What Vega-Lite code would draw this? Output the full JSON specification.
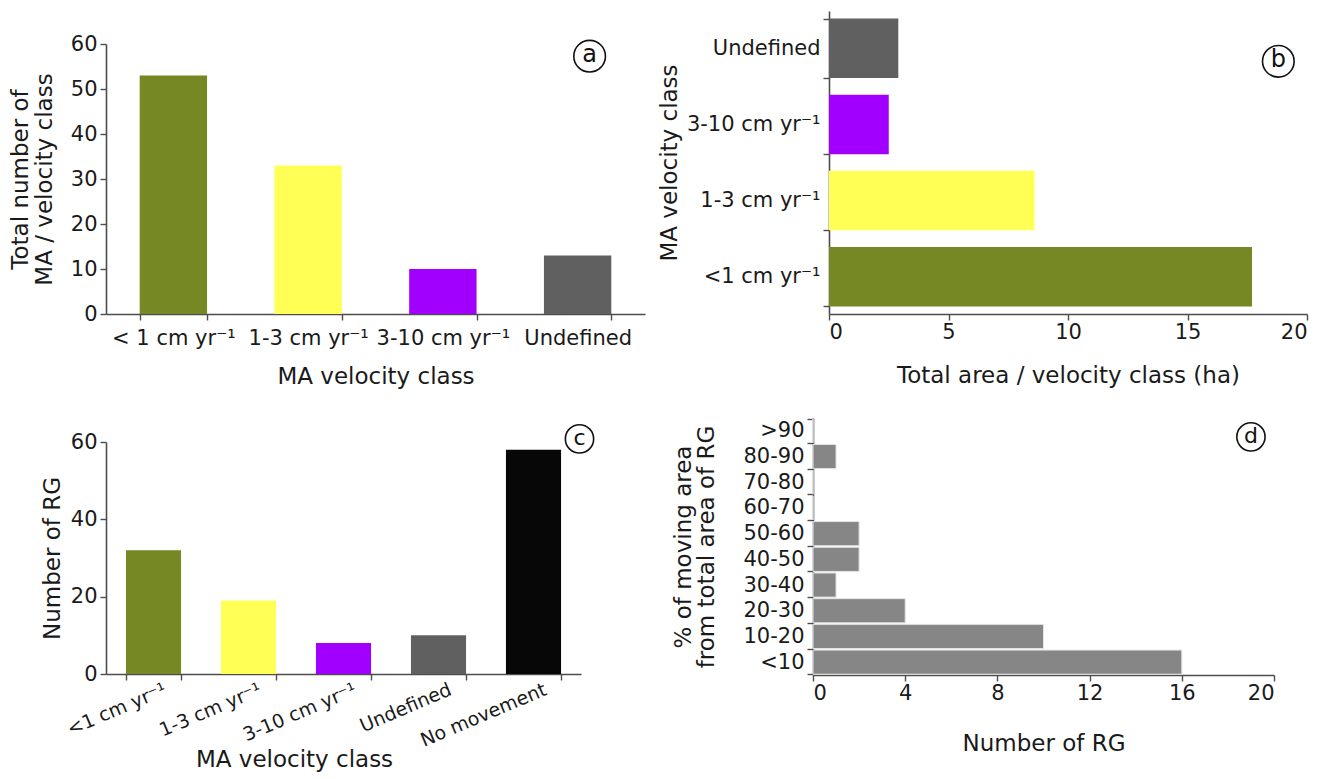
{
  "$schema": "https://vega.github.io/schema/vega-lite/v6.json",
  "padding": {"left": 9, "top": 0, "right": 5, "bottom": 5},
  "background": "white",
  "datasets": {
    "ma_count": [
      {"cls": "< 1 cm yr⁻¹", "n": 53},
      {"cls": "1-3 cm yr⁻¹", "n": 33},
      {"cls": "3-10 cm yr⁻¹", "n": 10},
      {"cls": "Undefined", "n": 13}
    ],
    "ma_area": [
      {"cls": "<1 cm yr⁻¹", "ha": 17.7},
      {"cls": "1-3 cm yr⁻¹", "ha": 8.6},
      {"cls": "3-10 cm yr⁻¹", "ha": 2.5},
      {"cls": "Undefined", "ha": 2.9}
    ],
    "rg_class": [
      {"cls": "<1 cm yr⁻¹", "n": 32},
      {"cls": "1-3 cm yr⁻¹", "n": 19},
      {"cls": "3-10 cm yr⁻¹", "n": 8},
      {"cls": "Undefined", "n": 10},
      {"cls": "No movement", "n": 58}
    ],
    "rg_pct": [
      {"pct": "<10", "n": 16},
      {"pct": "10-20", "n": 10},
      {"pct": "20-30", "n": 4},
      {"pct": "30-40", "n": 1},
      {"pct": "40-50", "n": 2},
      {"pct": "50-60", "n": 2},
      {"pct": "60-70", "n": 0},
      {"pct": "70-80", "n": 0},
      {"pct": "80-90", "n": 1},
      {"pct": ">90", "n": 0}
    ]
  },
  "spacing": 19,
  "vconcat": [
    {
      "spacing": 13,
      "hconcat": [
        {
          "spacing": 0,
          "vconcat": [
            {"width": 10, "height": 22, "data": {"values": []}, "mark": {"type": "point"}, "encoding": {}},
            {
              "width": 539,
              "height": 270,
              "layer": [
                {
                  "data": {"name": "ma_count"},
                  "mark": {"type": "bar"},
                  "encoding": {
                    "x": {"field": "cls", "type": "nominal",
                      "scale": {"domain": ["< 1 cm yr⁻¹", "1-3 cm yr⁻¹", "3-10 cm yr⁻¹", "Undefined"], "paddingInner": 0.5, "paddingOuter": 0.25},
                      "axis": {"title": "MA velocity class", "labelAngle": 0, "tickBand": "extent", "titlePadding": 17, "labelPadding": 7}},
                    "y": {"field": "n", "type": "quantitative",
                      "scale": {"domain": [0, 60], "nice": false},
                      "axis": {"title": ["Total number of", "MA / velocity class"], "values": [0, 10, 20, 30, 40, 50, 60], "titleLineHeight": 24, "titlePadding": 14}},
                    "color": {"field": "cls", "type": "nominal",
                      "scale": {"domain": ["< 1 cm yr⁻¹", "<1 cm yr⁻¹", "1-3 cm yr⁻¹", "3-10 cm yr⁻¹", "Undefined", "No movement"], "range": ["#768823", "#768823", "#ffff55", "#a100ff", "#606060", "#070707"]},
                      "legend": null}
                  }
                },
                {
                  "data": {"values": [{"tag": "a"}]},
                  "mark": {"type": "point", "shape": "circle", "size": 1000, "filled": false, "stroke": "#111111", "strokeWidth": 1.6, "opacity": 1, "xOffset": 12},
                  "encoding": {"x": {"datum": "Undefined"}, "y": {"datum": 57.3}}
                },
                {
                  "data": {"values": [{"tag": "a"}]},
                  "mark": {"type": "text", "fontSize": 24, "font": "DejaVu Sans", "color": "#111111", "baseline": "middle", "align": "center", "xOffset": 12, "yOffset": -1},
                  "encoding": {"x": {"datum": "Undefined"}, "y": {"datum": 57.3}, "text": {"field": "tag"}}
                }
              ]
            }
          ]
        },
        {
          "width": 478,
          "height": 303,
          "layer": [
            {
              "data": {"name": "ma_area"},
              "mark": {"type": "bar"},
              "encoding": {
                "y": {"field": "cls", "type": "nominal",
                  "scale": {"domain": ["Undefined", "3-10 cm yr⁻¹", "1-3 cm yr⁻¹", "<1 cm yr⁻¹"], "paddingInner": 0.22, "paddingOuter": 0.1},
                  "axis": {"title": "MA velocity class", "tickBand": "extent", "titlePadding": 5}},
                "x": {"field": "ha", "type": "quantitative",
                  "scale": {"domain": [0, 20], "nice": false},
                  "axis": {"title": "Total area / velocity class (ha)", "values": [0, 5, 10, 15, 20], "titlePadding": 22, "labelPadding": 1}},
                "color": {"field": "cls", "type": "nominal",
                  "scale": {"domain": ["< 1 cm yr⁻¹", "<1 cm yr⁻¹", "1-3 cm yr⁻¹", "3-10 cm yr⁻¹", "Undefined", "No movement"], "range": ["#768823", "#768823", "#ffff55", "#a100ff", "#606060", "#070707"]},
                  "legend": null}
              }
            },
            {
              "data": {"values": [{"tag": "b"}]},
              "mark": {"type": "point", "shape": "circle", "size": 1000, "filled": false, "stroke": "#111111", "strokeWidth": 1.6, "opacity": 1, "yOffset": 13},
              "encoding": {"x": {"datum": 18.8}, "y": {"datum": "Undefined"}}
            },
            {
              "data": {"values": [{"tag": "b"}]},
              "mark": {"type": "text", "fontSize": 24, "font": "DejaVu Sans", "color": "#111111", "baseline": "middle", "align": "center", "yOffset": 12},
              "encoding": {"x": {"datum": 18.8}, "y": {"datum": "Undefined"}, "text": {"field": "tag"}}
            }
          ]
        }
      ]
    },
    {
      "spacing": 75,
      "hconcat": [
        {
          "spacing": 0,
          "vconcat": [
            {"width": 10, "height": 3, "data": {"values": []}, "mark": {"type": "point"}, "encoding": {}},
            {
              "width": 475,
              "height": 232,
              "layer": [
                {
                  "data": {"name": "rg_class"},
                  "mark": {"type": "bar"},
                  "encoding": {
                    "x": {"field": "cls", "type": "nominal",
                      "scale": {"domain": ["<1 cm yr⁻¹", "1-3 cm yr⁻¹", "3-10 cm yr⁻¹", "Undefined", "No movement"], "paddingInner": 0.42, "paddingOuter": 0.21},
                      "axis": {"title": "MA velocity class", "labelAngle": -23, "labelAlign": "right", "labelBaseline": "top", "labelOffset": 8, "tickBand": "extent", "labelPadding": 0, "labelFontSize": 19,
                        "titleX": 188, "titleY": 85, "titleAlign": "center", "titleBaseline": "middle"}},
                    "y": {"field": "n", "type": "quantitative",
                      "scale": {"domain": [0, 60], "nice": false},
                      "axis": {"title": "Number of RG", "values": [0, 20, 40, 60], "titlePadding": 6}},
                    "color": {"field": "cls", "type": "nominal",
                      "scale": {"domain": ["< 1 cm yr⁻¹", "<1 cm yr⁻¹", "1-3 cm yr⁻¹", "3-10 cm yr⁻¹", "Undefined", "No movement"], "range": ["#768823", "#768823", "#ffff55", "#a100ff", "#606060", "#070707"]},
                      "legend": null}
                  }
                },
                {
                  "data": {"values": [{"tag": "c"}]},
                  "mark": {"type": "point", "shape": "circle", "size": 800, "filled": false, "stroke": "#111111", "strokeWidth": 1.6, "opacity": 1, "xOffset": 46},
                  "encoding": {"x": {"datum": "No movement"}, "y": {"datum": 60.8}}
                },
                {
                  "data": {"values": [{"tag": "c"}]},
                  "mark": {"type": "text", "fontSize": 22, "font": "DejaVu Sans", "color": "#111111", "baseline": "middle", "align": "center", "xOffset": 46, "yOffset": -1},
                  "encoding": {"x": {"datum": "No movement"}, "y": {"datum": 60.8}, "text": {"field": "tag"}}
                }
              ]
            }
          ]
        },
        {
          "width": 461,
          "height": 257,
          "layer": [
            {
              "data": {"name": "rg_pct"},
              "mark": {"type": "bar", "color": "#868686", "stroke": "#e4e4e4", "strokeWidth": 1},
              "encoding": {
                "y": {"field": "pct", "type": "nominal",
                  "scale": {"domain": [">90", "80-90", "70-80", "60-70", "50-60", "40-50", "30-40", "20-30", "10-20", "<10"], "paddingInner": 0.06, "paddingOuter": 0.03},
                  "axis": {"title": ["% of moving area", "from total area of RG"], "tickBand": "extent", "titleLineHeight": 23, "titlePadding": 24}},
                "x": {"field": "n", "type": "quantitative",
                  "scale": {"domain": [0, 20], "nice": false},
                  "axis": {"title": "Number of RG", "values": [0, 4, 8, 12, 16, 20], "titlePadding": 29, "labelPadding": 1}}
              }
            },
            {
              "data": {"values": [{"tag": "d"}]},
              "mark": {"type": "point", "shape": "circle", "size": 800, "filled": false, "stroke": "#111111", "strokeWidth": 1.6, "opacity": 1, "yOffset": 6},
              "encoding": {"x": {"datum": 19}, "y": {"datum": ">90"}}
            },
            {
              "data": {"values": [{"tag": "d"}]},
              "mark": {"type": "text", "fontSize": 22, "font": "DejaVu Sans", "color": "#111111", "baseline": "middle", "align": "center", "yOffset": 5},
              "encoding": {"x": {"datum": 19}, "y": {"datum": ">90"}, "text": {"field": "tag"}}
            }
          ]
        }
      ]
    }
  ],
  "config": {
    "view": {"stroke": null},
    "font": "DejaVu Sans",
    "axis": {
      "grid": false,
      "domainColor": "#4d4d4d",
      "domainWidth": 1.6,
      "tickColor": "#4d4d4d",
      "tickWidth": 1.4,
      "tickSize": 6,
      "labelFont": "DejaVu Sans",
      "labelFontSize": 21,
      "labelColor": "#1a1a1a",
      "labelPadding": 3,
      "titleFont": "DejaVu Sans",
      "titleFontSize": 23,
      "titleFontWeight": "normal",
      "titleColor": "#1a1a1a"
    }
  }
}
